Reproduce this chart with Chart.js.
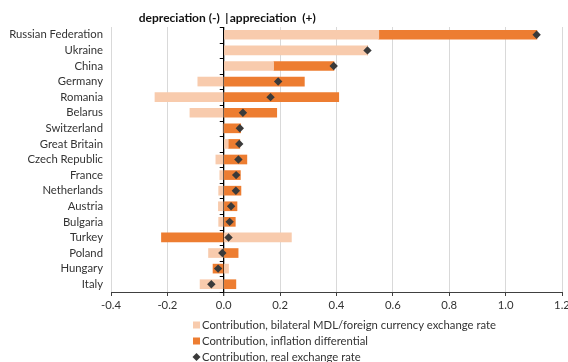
<!DOCTYPE html>
<html>
<head>
<meta charset="utf-8">
<script src="https://cdn.jsdelivr.net/npm/chart.js@4"></script>
<style>
  html, body { margin: 0; padding: 0; background: #fff; }
  #wrap { width: 568px; height: 362px; position: relative; }
</style>
</head>
<body>
<div id="wrap"><canvas id="c" width="568" height="362"></canvas></div>
<script>
// Decomposition of the real exchange rate change of the MDL by partner country
const categories = [
  'Russian Federation', 'Ukraine', 'China', 'Germany', 'Romania', 'Belarus',
  'Switzerland', 'Great Britain', 'Czech Republic', 'France', 'Netherlands',
  'Austria', 'Bulgaria', 'Turkey', 'Poland', 'Hungary', 'Italy'
];
const bilateralContribution = [
  0.55, 0.51, 0.177, -0.092, -0.244, -0.12, -0.003, 0.016, -0.028, -0.014,
  -0.018, -0.019, -0.018, 0.24, -0.054, 0.017, -0.084
];
const inflationContribution = [
  0.561, 0.0, 0.214, 0.286, 0.408, 0.188, 0.06, 0.041, 0.082, 0.059,
  0.061, 0.047, 0.041, -0.221, 0.051, -0.038, 0.043
];
const realRateContribution = [
  1.11, 0.51, 0.39, 0.193, 0.166, 0.068, 0.057, 0.055, 0.052, 0.044,
  0.043, 0.026, 0.021, 0.017, -0.005, -0.02, -0.044
];
const xTicks = [-0.4, -0.2, 0, 0.2, 0.4, 0.6, 0.8, 1.0, 1.2];
const seriesNames = [
  'Contribution, bilateral MDL/foreign currency exchange rate',
  'Contribution, inflation differential',
  'Contribution, real exchange rate'
];

const FONT = 'Lato, "DejaVu Sans", sans-serif';
const FONT_SIZE = 11.3;
const LIGHT = '#f8cbad';
const DARK = '#ed7d31';
const MARK = '#3a3a3a';
const TEXT = '#333333';

// Header over the zero line and a stacked legend under the axis
const decorations = {
  id: 'decorations',
  afterDatasetsDraw(chart) {
    const ctx = chart.ctx;
    const x = chart.scales.x, y = chart.scales.y;
    const x0 = x.getPixelForValue(0);
    ctx.save();
    // small ticks on the zero line between categories
    ctx.strokeStyle = '#000';
    ctx.lineWidth = 1;
    for (let i = 0; i <= categories.length; i++) {
      const py = Math.round(y.getPixelForValue(i - 0.5)) + 0.5;
      ctx.beginPath();
      ctx.moveTo(x0 - 4, py);
      ctx.lineTo(x0, py);
      ctx.stroke();
    }
    ctx.restore();
  },
  afterDraw(chart) {
    const ctx = chart.ctx;
    const x0 = chart.scales.x.getPixelForValue(0);
    ctx.save();
    ctx.fillStyle = '#111';
    ctx.font = 'bold 12px ' + FONT;
    ctx.textBaseline = 'middle';
    ctx.textAlign = 'right';
    ctx.fillText('depreciation (-)', x0 - 4, 18);
    ctx.textAlign = 'center';
    ctx.fillText('|', x0 + 3, 18);
    ctx.textAlign = 'left';
    ctx.fillText('appreciation  (+)', x0 + 6, 18);

    // legend
    const lx = 193;
    const rows = [325, 341, 357];
    ctx.font = FONT_SIZE + 'px ' + FONT;
    ctx.fillStyle = LIGHT;
    ctx.fillRect(lx, rows[0] - 3.5, 7, 7);
    ctx.fillStyle = DARK;
    ctx.fillRect(lx, rows[1] - 3.5, 7, 7);
    ctx.fillStyle = MARK;
    ctx.beginPath();
    ctx.moveTo(lx + 3.5, rows[2] - 4);
    ctx.lineTo(lx + 7.5, rows[2]);
    ctx.lineTo(lx + 3.5, rows[2] + 4);
    ctx.lineTo(lx - 0.5, rows[2]);
    ctx.closePath();
    ctx.fill();
    ctx.fillStyle = TEXT;
    ctx.textAlign = 'left';
    ctx.textBaseline = 'middle';
    seriesNames.forEach((name, i) => ctx.fillText(name, lx + 9, rows[i] + 0.5));
    ctx.restore();
  }
};

new Chart(document.getElementById('c'), {
  type: 'bar',
  data: {
    labels: categories,
    datasets: [
      {
        label: seriesNames[0],
        data: bilateralContribution,
        backgroundColor: LIGHT,
        barThickness: 9,
        stack: 'parts',
        order: 1
      },
      {
        label: seriesNames[1],
        data: inflationContribution,
        backgroundColor: DARK,
        barThickness: 9,
        stack: 'parts',
        order: 1
      },
      {
        type: 'line',
        label: seriesNames[2],
        data: realRateContribution,
        showLine: false,
        pointStyle: 'rectRot',
        pointRadius: 4.2,
        backgroundColor: MARK,
        borderColor: MARK,
        borderWidth: 0,
        stack: 'real',
        order: 0
      }
    ]
  },
  plugins: [decorations],
  options: {
    indexAxis: 'y',
    responsive: false,
    animation: false,
    layout: { padding: { top: 27, right: 6, left: 0, bottom: 0 } },
    plugins: {
      legend: { display: false },
      tooltip: { enabled: false },
      title: { display: false }
    },
    scales: {
      x: {
        type: 'linear',
        stacked: true,
        min: -0.4,
        max: 1.2,
        afterBuildTicks(scale) {
          scale.ticks = xTicks.map(v => ({ value: v }));
        },
        afterFit(scale) {
          scale.height = 70;
          scale.paddingRight = 0;
          scale.paddingLeft = 0;
        },
        ticks: {
          font: { family: FONT, size: FONT_SIZE },
          color: TEXT,
          padding: 3,
          callback: v => v.toFixed(1)
        },
        grid: {
          color: ctx => (ctx.tick && ctx.tick.value === 0) ? '#000000' : '#d9d9d9',
          lineWidth: ctx => (ctx.tick && ctx.tick.value === 0) ? 1.3 : 1,
          tickColor: '#404040',
          tickLength: 4,
          drawOnChartArea: true
        },
        border: { display: true, color: '#404040', width: 1 }
      },
      y: {
        stacked: true,
        afterFit(scale) { scale.width = 111; },
        ticks: {
          font: { family: FONT, size: FONT_SIZE },
          color: TEXT,
          padding: 8,
          autoSkip: false
        },
        grid: { display: false, drawTicks: false, tickLength: 0 },
        border: { display: false }
      }
    }
  }
});
</script>
</body>
</html>
